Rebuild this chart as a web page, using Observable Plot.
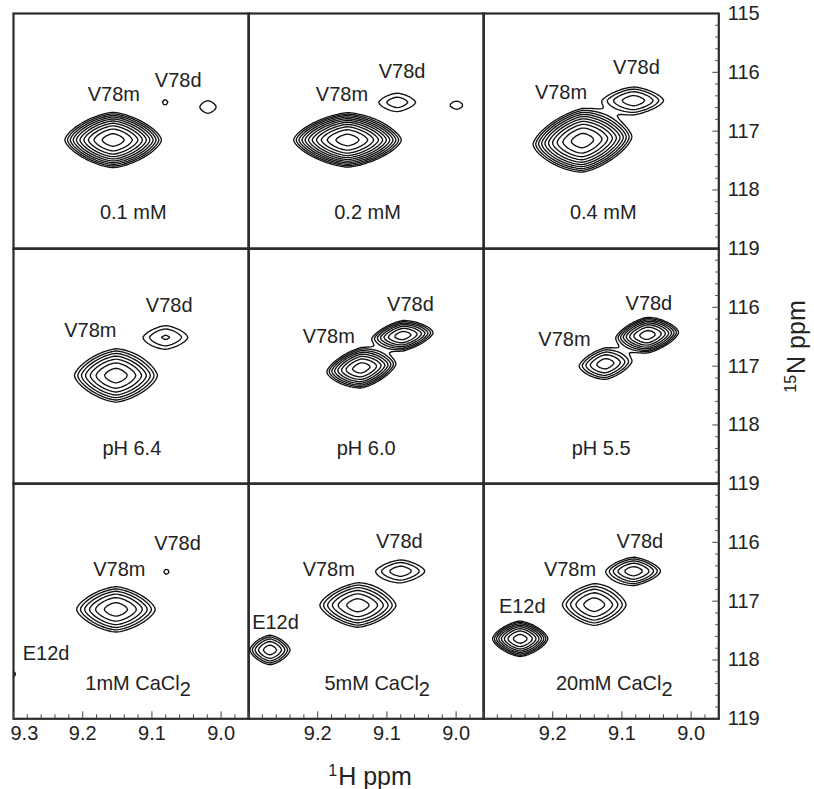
<!DOCTYPE html>
<html>
<head>
<meta charset="utf-8">
<script src="https://cdn.jsdelivr.net/npm/d3@7"></script>
<script src="https://cdn.jsdelivr.net/npm/@observablehq/plot@0.6"></script>
<style>
  html, body { margin: 0; padding: 0; background: #ffffff; }
  body { font-family: "Liberation Sans", Arial, sans-serif; color: #222; }
  #chart { position: relative; width: 814px; height: 789px; overflow: hidden; }
  #chart svg { position: absolute; }
  .axis-title { position: absolute; font-size: 25px; line-height: 25px; color: #222; white-space: nowrap; text-align: center; }
  .axis-title .sup { font-size: 16px; position: relative; top: -9px; margin-right: 1px; }
</style>
</head>
<body>
<div id="chart"></div>
<script>
// ---------------- data ----------------
// panel order: row by row (0.1 mM, 0.2 mM, 0.4 mM, pH 6.4, pH 6.0, pH 5.5, 1/5/20 mM CaCl2)
const panelTitles = ["0.1 mM", "0.2 mM", "0.4 mM", "pH 6.4", "pH 6.0", "pH 5.5", "1mM CaCl2", "5mM CaCl2", "20mM CaCl2"];
const titleH = [9.127, 9.128, 9.127, 9.129, 9.130, 9.130, 9.120, 9.114, 9.111];
const titleN = [118.39, 118.39, 118.39, 118.41, 118.41, 118.41, 118.40, 118.40, 118.40];

// cross peaks (1H ppm, 15N ppm, height in base-contour units, widths in ppm, skew)
const peakPanel  = [0, 0, 0, 1, 1, 1, 2, 2, 3, 3, 4, 4, 5, 5, 6, 6, 6, 7, 7, 7, 8, 8, 8];
const peakH      = [9.156, 9.081, 9.019, 9.157, 9.085, 8.999, 9.157, 9.083, 9.152, 9.080, 9.137, 9.077, 9.124, 9.063, 9.152, 9.079, 9.302, 9.142, 9.080, 9.269, 9.140, 9.083, 9.247];
const peakN      = [117.15, 116.51, 116.59, 117.15, 116.51, 116.56, 117.16, 116.48, 117.16, 116.51, 117.03, 116.48, 116.96, 116.47, 117.14, 116.50, 118.24, 117.07, 116.49, 117.83, 117.06, 116.49, 117.64];
const peakHeight = [12.1, 1.1, 1.2, 15.7, 1.48, 1.15, 12.1, 2.5, 5.5, 1.72, 7.16, 5.5, 3.26, 7.16, 4.23, 1.1, 1.15, 4.23, 1.93, 3.26, 3.26, 3.26, 7.16];
const peakWidthH = [0.0313, 0.009, 0.020, 0.0332, 0.030, 0.0164, 0.032, 0.032, 0.0325, 0.0307, 0.0252, 0.0238, 0.0247, 0.0227, 0.0335, 0.009, 0.0095, 0.0324, 0.0305, 0.0189, 0.030, 0.0254, 0.0202];
const peakWidthN = [0.210, 0.105, 0.180, 0.196, 0.175, 0.128, 0.240, 0.170, 0.244, 0.190, 0.171, 0.138, 0.172, 0.151, 0.227, 0.105, 0.120, 0.220, 0.166, 0.163, 0.228, 0.153, 0.151];
const peakSkew   = [0, 0, 0, 0, 0, 0, 0.12, 0, 0, 0, 0.2, 0.2, 0.15, 0.15, 0, 0, 0, 0, 0, 0, 0, 0, 0];

// contour levels (base level and multiplier 1.3)
const contourLevels = [1, 1.3, 1.69, 2.197, 2.856, 3.713, 4.827, 6.275, 8.157, 10.604, 13.786, 17.922];

// peak assignment labels
const labelPanel = [0, 0, 1, 1, 2, 2, 3, 3, 4, 4, 5, 5, 6, 6, 6, 7, 7, 7, 8, 8, 8];
const labelText  = ["V78m", "V78d", "V78m", "V78d", "V78m", "V78d", "V78m", "V78d", "V78m", "V78d", "V78m", "V78d", "V78m", "V78d", "E12d", "V78m", "V78d", "E12d", "V78m", "V78d", "E12d"];
const labelH     = [9.155, 9.062, 9.165, 9.078, 9.188, 9.079, 9.189, 9.075, 9.184, 9.066, 9.183, 9.061, 9.147, 9.063, 9.253, 9.184, 9.082, 9.261, 9.175, 9.074, 9.244];
const labelN     = [116.38, 116.14, 116.38, 115.99, 116.34, 115.92, 116.40, 115.97, 116.50, 115.95, 116.55, 115.93, 116.47, 116.03, 117.89, 116.46, 115.98, 117.37, 116.46, 115.98, 117.09];

// axes
const hDomain = [9.3, 8.96];
const nDomain = [115, 119];
const hTickLabelsFirst = [9.3];
const hTickLabels = [9.2, 9.1, 9.0];
const hMajorTicks = [9.3, 9.2, 9.1, 9.0];
const hMinorTicks = [9.28, 9.26, 9.24, 9.22, 9.18, 9.16, 9.14, 9.12, 9.08, 9.06, 9.04, 9.02, 8.98];
const nTickLabelsTop = [115, 116, 117, 118, 119];
const nTickLabels = [116, 117, 118, 119];
const nMajorTicks = [116, 117, 118];
const nMinorTicks = [115.2, 115.4, 115.6, 115.8, 116.2, 116.4, 116.6, 116.8, 117.2, 117.4, 117.6, 117.8, 118.2, 118.4, 118.6, 118.8];

// ---------------- layout ----------------
const size = 235.3;
const colLeft = [12.5, 247.8, 483.1];
const rowTop = [12.7, 248.0, 483.3];
const ink = "#222";
const font = "'Liberation Sans', Arial, sans-serif";
const shapeExponent = 1.5; // lens-like peak outline

function intensity(panel) {
  const idx = d3.range(peakH.length).filter(i => peakPanel[i] === panel);
  const q = shapeExponent;
  return (x, y) => {
    let s = 0;
    for (const i of idx) {
      const u = (x - peakH[i]) / peakWidthH[i];
      const v = (y - peakN[i]) / peakWidthN[i];
      const w = v - peakSkew[i] * u;
      const d = Math.pow(Math.pow(Math.abs(u), q) + Math.pow(Math.abs(w), q), 2 / q);
      s += peakHeight[i] * Math.exp(-0.5 * d);
    }
    return s;
  };
}

const chart = document.getElementById("chart");
const ns = "http://www.w3.org/2000/svg";

for (let p = 0; p < 9; p++) {
  const r = Math.floor(p / 3), c = p % 3;
  const bottom = r === 2, right = c === 2;
  const m = 4;
  const mr = right ? 80 : m;
  const mb = bottom ? 44 : m;

  const labels = d3.range(labelText.length).filter(i => labelPanel[i] === p)
    .map(i => ({h: labelH[i], n: labelN[i], t: labelText[i]}));
  const title = [{h: titleH[p], n: titleN[p], t: panelTitles[p]}];

  const marks = [
    Plot.contour({
      value: intensity(p),
      x1: hDomain[0], x2: hDomain[1], y1: nDomain[0], y2: nDomain[1],
      thresholds: contourLevels, stroke: "#111", strokeWidth: 1.35, fill: "none", pixelSize: 2, clip: true
    }),
    Plot.text(labels, {x: "h", y: "n", text: "t", fontSize: 20, fill: ink}),
    Plot.text(title, {x: "h", y: "n", text: "t", fontSize: 20, fill: ink}),
    Plot.frame({stroke: "#2a2a2a", strokeWidth: 2.2})
  ];
  if (bottom) {
    marks.push(
      Plot.axisX(hMinorTicks, {anchor: "bottom", tickSize: 4, dy: -4, fill: "none", stroke: "#444", label: null}),
      Plot.axisX(hMajorTicks, {anchor: "bottom", tickSize: 7, dy: -7, fill: "none", stroke: "#444", label: null}),
      Plot.axisX(hTickLabels, {anchor: "bottom", tickSize: 0, tickPadding: 7, tickFormat: d3.format(".1f"), fontSize: 20, fill: ink, label: null})
    );
    if (c === 0) marks.push(Plot.axisX(hTickLabelsFirst, {anchor: "bottom", tickSize: 0, tickPadding: 7, tickFormat: d3.format(".1f"), fontSize: 20, fill: ink, textAnchor: "start", dx: -3, label: null}));
  }
  if (right) {
    marks.push(
      Plot.axisY(nMinorTicks, {anchor: "right", tickSize: 4, dx: -4, fill: "none", stroke: "#444", label: null}),
      Plot.axisY(nMajorTicks, {anchor: "right", tickSize: 7, dx: -7, fill: "none", stroke: "#444", label: null}),
      Plot.axisY(r === 0 ? nTickLabelsTop : nTickLabels, {anchor: "right", tickSize: 0, tickPadding: 9, tickFormat: d3.format("d"), fontSize: 20, fill: ink, label: null})
    );
  }

  const svg = Plot.plot({
    width: m + size + mr,
    height: m + size + mb,
    marginLeft: m, marginTop: m, marginRight: mr, marginBottom: mb,
    x: {domain: hDomain, ...(bottom ? {} : {axis: null})},
    y: {domain: nDomain, reverse: true, ...(right ? {} : {axis: null})},
    style: {background: "transparent", overflow: "visible", fontFamily: font, fontSize: "20px", color: ink},
    marks
  });
  svg.style.left = (colLeft[c] - m) + "px";
  svg.style.top = (rowTop[r] - m) + "px";

  // subscript for CaCl2
  svg.querySelectorAll("text").forEach(t => {
    const s = t.textContent;
    if (/CaCl2$/.test(s) && t.children.length === 0) {
      t.textContent = "";
      const a = document.createElementNS(ns, "tspan");
      a.textContent = s.slice(0, -1);
      const b = document.createElementNS(ns, "tspan");
      b.setAttribute("dy", "0.32em");
      b.textContent = "2";
      t.append(a, b);
    }
  });
  chart.appendChild(svg);
}

// axis titles
const xt = document.createElement("div");
xt.className = "axis-title";
xt.style.left = "270px"; xt.style.width = "200px"; xt.style.top = "764px";
xt.innerHTML = '<span class="sup">1</span>H ppm';
chart.appendChild(xt);

const yt = document.createElement("div");
yt.className = "axis-title";
yt.style.left = (796 - 100) + "px"; yt.style.width = "200px"; yt.style.top = (346 - 12.5) + "px"; yt.style.height = "25px";
yt.style.transform = "rotate(-90deg)";
yt.innerHTML = '<span class="sup">15</span>N ppm';
chart.appendChild(yt);
</script>
</body>
</html>
